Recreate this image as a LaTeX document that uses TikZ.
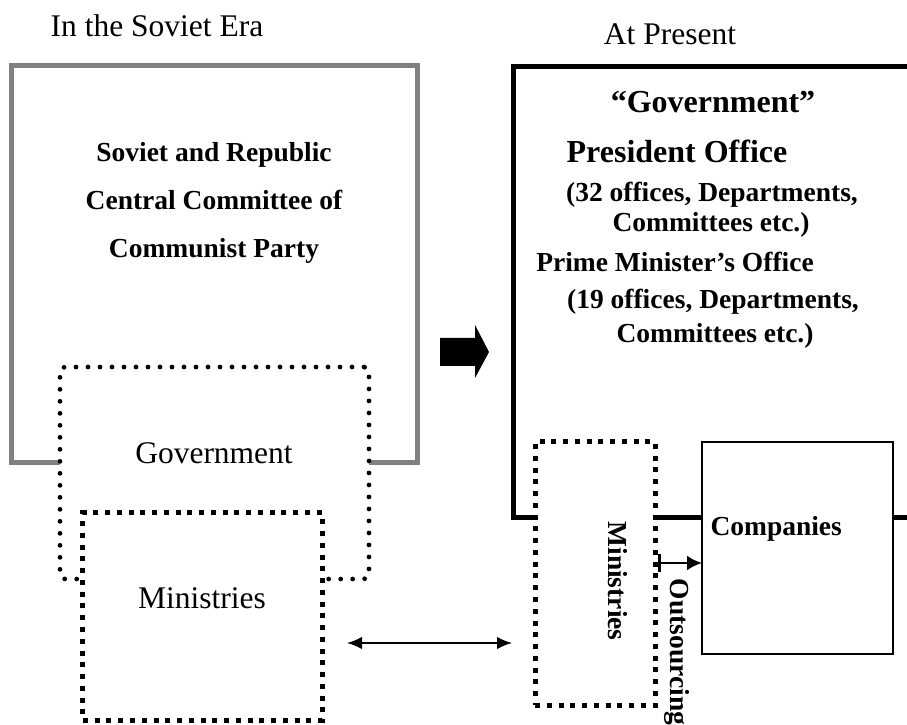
\documentclass[tikz,border=0pt]{standalone}
\usepackage{fontspec}
\setmainfont{Liberation Serif}
\usetikzlibrary{arrows.meta}

\begin{document}
\begin{tikzpicture}[
  x=0.4pt, y=-0.4pt,
  frame/.style={draw, inner sep=0pt, outer sep=0pt},
  oldframe/.style={frame, draw=gray, line width=2pt},
  newframe/.style={frame, line width=2pt},
  govdots/.style={frame, fill=white, line width=1.9pt, line cap=round,
                  dash pattern=on 0pt off 4.8pt, rounded corners=2pt},
  mindots/.style={frame, fill=white, line width=2pt,
                  dash pattern=on 2pt off 2.7pt},
  compbox/.style={frame, fill=white, line width=1pt},
  txt/.style={font=\fontsize{12.6}{15}\selectfont, anchor=base, inner sep=0pt},
  bld/.style={font=\fontsize{11}{13}\selectfont\bfseries, anchor=base, inner sep=0pt},
  big/.style={font=\fontsize{12.8}{15}\selectfont\bfseries, anchor=base, inner sep=0pt},
  dbl/.style={{Latex[length=6pt,width=5pt]}-{Latex[length=6pt,width=5pt]}, line width=0.7pt},
  outarr/.style={{Bar[width=7pt]}-{Latex[length=6pt,width=6pt]}, line width=1pt}
]
\clip (0,0) rectangle (907,725);

% Soviet era
\node[txt] (era) at (157,37) {In the Soviet Era};
\node[oldframe, minimum width=162pt, minimum height=158.4pt] (soviet) at (214.5,264) {};
\node[bld] (party1) at (214,162) {Soviet and Republic};
\node[bld] (party2) at (214,210) {Central Committee of};
\node[bld] (party3) at (214,258) {Communist Party};
\node[govdots, minimum width=123.6pt, minimum height=84.8pt] (govold) at (214.5,473) {};
\node[txt] (govoldtxt) at (214,463) {Government};
\node[mindots, minimum width=95.6pt, minimum height=82.8pt] (minold) at (202.5,616.5) {};
\node[txt] (minoldtxt) at (202,608) {Ministries};

% transition
\fill (440,338) -- (475,338) -- (475,325) -- (489,352) -- (475,378)
  -- (475,366) -- (440,366) -- cycle;

% present
\node[txt] (now) at (670,45) {At Present};
\node[newframe, minimum width=178.8pt, minimum height=180pt] (govnew) at (736.5,292) {};
\node[big] (gov) at (713,113) {``Government''};
\node[big] (pres) at (677,163) {President Office};
\node[bld] (pres1) at (712,202) {(32 offices, Departments,};
\node[bld] (pres2) at (711,232) {Committees etc.)};
\node[bld] (pm) at (675,272) {Prime Minister’s Office};
\node[bld] (pm1) at (713,309) {(19 offices, Departments,};
\node[bld] (pm2) at (715,343) {Committees etc.)};
\node[mindots, minimum width=48pt, minimum height=105.2pt] (minnew) at (595,573.5) {};
\node[bld, anchor=center, rotate=-90] (minnewtxt) at (618,581) {Ministries};
\node[compbox, minimum width=76.4pt, minimum height=84.8pt] (comp) at (797.5,548) {};
\node[bld, anchor=base west] (comptxt) at (710,535) {Companies};
\node[bld, anchor=center, rotate=-90] (outtxt) at (677,652) {Outsourcing};

\coordinate (mid) at (430,643);
\coordinate (outs) at (658,563);
\draw[dbl, shorten <=10pt, shorten >=9.2pt] (minold.east |- mid) -- (minnew.west |- mid);
\draw[outarr, shorten <=1.2pt] (minnew.east |- outs) -- (comp.west |- outs);
\end{tikzpicture}
\end{document}
